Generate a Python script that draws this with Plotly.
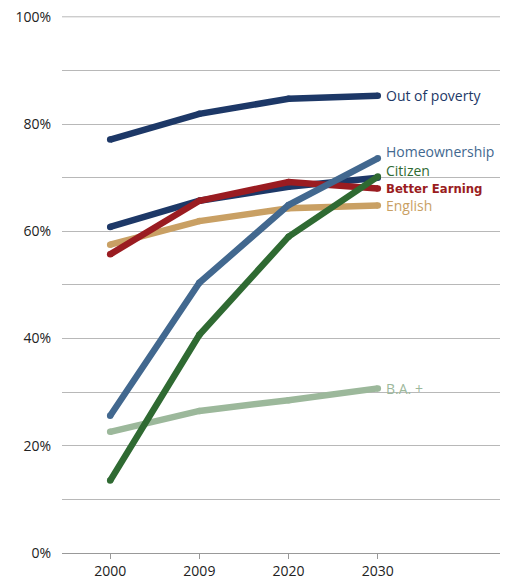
import plotly.graph_objects as go

years = ["2000", "2009", "2020", "2030"]

out_of_poverty = [77.1, 81.9, 84.7, 85.3]
overall = [60.8, 65.7, 68.3, 70.0]
better_earning = [55.7, 65.7, 69.2, 68.0]
english = [57.5, 61.9, 64.3, 64.8]
homeownership = [25.6, 50.4, 64.9, 73.6]
citizen = [13.5, 40.7, 59.0, 70.2]
ba_plus = [22.6, 26.5, 28.5, 30.7]

y_ticks = [0, 20, 40, 60, 80, 100]
y_tick_text = ["0%", "20%", "40%", "60%", "80%", "100%"]

FONT = "Open Sans, Noto Sans, sans-serif"
W = 6.5
GRID = "#b8b8b8"

# (values, color, label, label y-offset px, bold)
series = [
    (ba_plus, "#9cb89b", "B.A. +", 0, False),
    (english, "#c9a064", "English", 0, False),
    (overall, "#1d3867", None, 0, False),
    (better_earning, "#9a1c21", "Better Earning", 0, True),
    (homeownership, "#42688f", "Homeownership", 7, False),
    (citizen, "#2f6a32", "Citizen", 6, False),
    (out_of_poverty, "#1d3867", "Out of poverty", 0, False),
]

x_idx = list(range(len(years)))
fig = go.Figure()
annotations = []
for vals, color, label, dy, bold in series:
    fig.add_trace(go.Scatter(
        x=x_idx, y=vals, mode="lines+markers",
        line=dict(color=color, width=W),
        marker=dict(color=color, size=W, line=dict(width=0)),
        hoverinfo="skip", showlegend=False,
    ))
    if label:
        annotations.append(dict(
            x=x_idx[-1], y=vals[-1], xref="x", yref="y",
            text=f"<b>{label}</b>" if bold else label,
            showarrow=False, xanchor="left", yanchor="middle",
            xshift=6, yshift=dy,
            font=dict(family="DejaVu Sans Condensed, Liberation Sans Narrow, " + FONT if bold else FONT,
                      size=13 if bold else 14, color=color),
        ))

# top gridline at 100%, drawn beneath the data
fig.add_shape(type="line", xref="paper", yref="y", x0=0, x1=1, y0=100, y1=100,
              line=dict(color=GRID, width=1), layer="below")

fig.update_layout(
    width=511, height=585,
    margin=dict(l=62, r=11, t=16, b=32, autoexpand=False),
    paper_bgcolor="white", plot_bgcolor="white",
    annotations=annotations,
    font=dict(family=FONT, size=14, color="#222222"),
    xaxis=dict(
        range=[-0.54, 4.37],
        tickvals=x_idx, ticktext=years,
        showgrid=False, zeroline=False, automargin=False,
        showline=True, linecolor="#999999", linewidth=1,
        ticks="outside", ticklen=5, tickcolor="#999999",
        tickfont=dict(size=14, color="#222222"),
    ),
    yaxis=dict(
        range=[0, 100.15],
        tickvals=y_ticks, ticktext=y_tick_text,
        showgrid=True, gridcolor=GRID, gridwidth=1,
        zeroline=False, showline=False, automargin=False,
        ticks="", ticklabelstandoff=10,
        tickfont=dict(size=14, color="#222222"),
        minor=dict(tickvals=[10, 30, 50, 70, 90], showgrid=True,
                   gridcolor=GRID, gridwidth=1),
    ),
)

fig.write_html("out.html")
